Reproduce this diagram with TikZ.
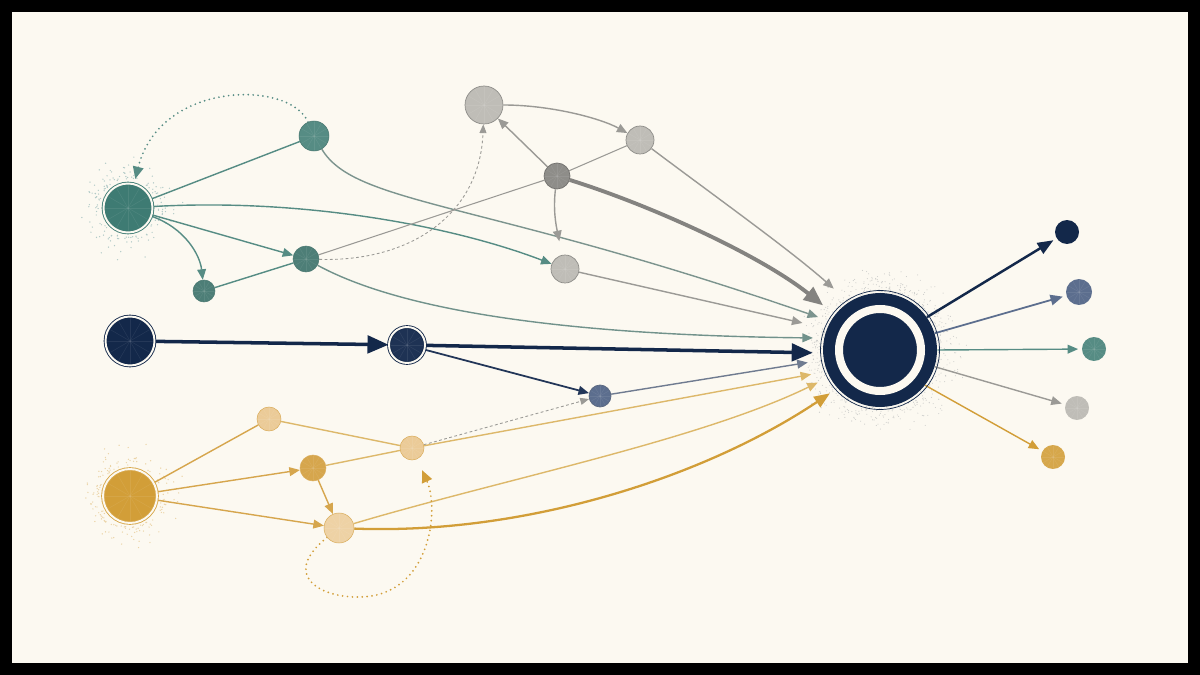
\documentclass[tikz,border=0pt]{standalone}
\usetikzlibrary{arrows.meta,calc,backgrounds}

\definecolor{paper}{HTML}{FCF9F1}
\definecolor{tealA}{HTML}{3E7B73}
\definecolor{tealB}{HTML}{568C84}
\definecolor{navy}{HTML}{13284A}
\definecolor{slate}{HTML}{5C6E8E}
\definecolor{stone}{HTML}{BFBDB7}
\definecolor{stoneD}{HTML}{8E8D89}
\definecolor{wire}{HTML}{9B9A96}
\definecolor{goldA}{HTML}{D29E38}
\definecolor{goldB}{HTML}{D6A64D}
\definecolor{goldC}{HTML}{EBCB98}
\definecolor{goldL}{HTML}{DDB86A}

\tikzset{
  bead/.style={circle, inner sep=0pt, minimum size={#1*0.04cm}},
  grain/.style={path picture={
      \foreach \a in {0,30,...,330}
        \draw[white, opacity=.08, line width=.3pt]
          (path picture bounding box.center) -- ++(\a:1.2cm);}},
  tealbead/.style={bead=#1, grain, fill=tealB, draw=tealB!85!black, line width=0.3pt},
  stonebead/.style={bead=#1, grain, fill=stone, draw=stoneD, line width=0.4pt},
  goldbead/.style={bead=#1, grain, fill=goldC, draw=goldB!80!goldC, line width=0.3pt},
  source/.style={draw=#1, double=paper, double distance=1.1pt, line width=0.5pt},
  link/.style={line width=0.8pt},
  flow/.style={link, -{Triangle[length=6pt,width=5pt]}},
  bigflow/.style={line width=2pt, -{Triangle[length=12pt,width=10pt]}},
  dotloop/.style={line width=1.1pt, line cap=round, dash pattern=on 0pt off 2.8pt,
                  -{Triangle[length=7pt,width=6pt]}},
  dashlink/.style={line width=0.5pt, dash pattern=on 1.6pt off 1.4pt,
                   -{Triangle[length=5pt,width=4pt]}},
}

\begin{document}
\begin{tikzpicture}[x=0.02cm, y=-0.02cm]
\useasboundingbox (0,0) rectangle (1200,675);
%
% teal branch
\node[bead=24.5, grain, fill=tealA, source=tealA] (T0) at (128,208) {};
\node[tealbead=15] (T1) at (314,136) {};
\node[tealbead=13, fill=tealB!90!black] (T2) at (306,259) {};
\node[tealbead=11, fill=tealB!90!black] (T3) at (204,291) {};
%
% grey branch
\node[stonebead=19] (G1) at (484,105) {};
\node[stonebead=14] (G2) at (640,140) {};
\node[stonebead=13, fill=stoneD, draw=stoneD!80!black] (G3) at (557,176) {};
\node[stonebead=14] (G4) at (565,269) {};
%
% navy branch
\node[bead=24.5, grain, fill=navy, source=navy] (N0) at (130,341) {};
\node[bead=18, grain, fill=navy!85!slate, source=navy] (N1) at (407,345) {};
\node[bead=11, grain, fill=slate, draw=navy!70] (N2) at (600,396) {};
%
% gold branch
\node[bead=27, grain, fill=goldA, source=goldA!80!goldC] (Y0) at (130,496) {};
\node[goldbead=12] (Y1) at (269,419) {};
\node[goldbead=13, fill=goldB] (Y2) at (313,468) {};
\node[goldbead=12] (Y3) at (412,448) {};
\node[goldbead=15, fill=goldC!85!paper] (Y4) at (339,528) {};
%
% hub
\node[bead=57, fill=navy] (Hub) at (880,350) {};
\draw[paper, line width=0.16cm] (Hub.center) circle[radius=41];
\draw[navy, line width=0.4pt] (Hub.center) circle[radius=59.5];
%
% outputs
\node[bead=12, fill=navy] (O1) at (1067,232) {};
\node[bead=13, grain, fill=slate] (O2) at (1079,292) {};
\node[bead=12, grain, fill=tealB] (O3) at (1094,349) {};
\node[bead=12, grain, fill=stone] (O4) at (1077,408) {};
\node[bead=12, grain, fill=goldA!90!paper] (O5) at (1053,457) {};
%
\begin{scope}[on background layer]
\fill[black] (0,0) rectangle (1200,675);
\fill[paper] (12,12) rectangle (1188,663);
%
% halos
\pgfmathsetseed{11}
\foreach \k in {1,...,150}{
  \pgfmathsetmacro\ang{rnd*360}
  \pgfmathsetmacro\dst{29+28*rnd*rnd}
  \fill[tealA!40] ($(T0)+(\ang:\dst)$) circle (0.7);
}
\foreach \k in {1,...,150}{
  \pgfmathsetmacro\ang{rnd*360}
  \pgfmathsetmacro\dst{31+28*rnd*rnd}
  \fill[goldA!45] ($(Y0)+(\ang:\dst)$) circle (0.7);
}
\foreach \k in {1,...,600}{
  \pgfmathsetmacro\ang{rnd*360}
  \pgfmathsetmacro\dst{58+32*rnd*rnd}
  \fill[stoneD!45] ($(Hub)+(\ang:\dst)$) circle (0.55);
}
%
% teal links
\draw[link, tealB] (T0) -- (T1);
\draw[flow, tealB] (T0) -- (T2);
\draw[flow, tealB] (T0) .. controls (185,228) and (200,255) .. (T3);
\draw[link, tealB] (T3) -- (T2);
\draw[flow, tealB] (T0) .. controls (300,198) and (450,225) .. (G4);
\draw[dotloop, tealB, shorten >=0.1cm] (T1) .. controls (290,80) and (160,80) .. (T0);
\draw[flow, tealB!45!wire, shorten >=0.26cm] (T1) .. controls (355,205) and (480,200) .. (Hub.150);
\draw[flow, tealB!60!wire, shorten >=0.22cm] (T2) .. controls (400,310) and (560,335) .. (Hub.168);
\draw[dashlink, wire] (T2) .. controls (410,262) and (480,215) .. (G1);
%
% grey links
\draw[flow, wire] (G1) .. controls (550,105) and (600,118) .. (G2);
\draw[flow, wire] (G3) -- (G1);
\draw[link, wire, line width=0.6pt] (G3) -- (G2);
\draw[link, wire, line width=0.6pt] (G3) -- (T2);
\draw[flow, wire, shorten >=0.28cm] (G3) .. controls (553,210) and (556,225) .. (G4);
\draw[flow, wire, shorten >=0.4cm] (G2) .. controls (720,200) and (790,250) .. (Hub.123);
\draw[wire!85!black, line width=2.2pt, -{Triangle[length=11pt,width=9pt]}, shorten >=0.3cm]
      (G3) .. controls (650,205) and (760,255) .. (Hub.142);
\draw[flow, wire, shorten >=0.5cm] (G4) -- (Hub.158);
%
% navy links
\draw[bigflow, navy] (N0) -- (N1);
\draw[bigflow, navy, shorten >=0.2cm] (N1) -- (Hub.183);
\draw[flow, navy!80!slate, line width=1pt] (N1) -- (N2);
\draw[flow, slate!70!wire, shorten >=0.32cm] (N2) -- (Hub.190);
\draw[dashlink, wire] (Y3) -- (N2);
%
% gold links
\draw[link, goldB] (Y0) -- (Y1);
\draw[flow, goldB] (Y0) -- (Y2);
\draw[flow, goldB] (Y0) -- (Y4);
\draw[link, goldL] (Y1) -- (Y3);
\draw[link, goldL] (Y2) -- (Y3);
\draw[flow, goldB] (Y2) -- (Y4);
\draw[flow, goldL, shorten >=0.32cm] (Y3) -- (Hub.202);
\draw[flow, goldL, shorten >=0.26cm] (Y4) .. controls (500,480) and (700,440) .. (Hub.208);
\draw[goldA, line width=1.3pt, -{Triangle[length=9pt,width=7pt]}, shorten >=0.18cm]
      (Y4) .. controls (520,535) and (700,480) .. (Hub.222);
\draw[dotloop, goldA, shorten >=0.24cm]
      (Y4) .. controls (280,575) and (320,598) .. (360,597)
           .. controls (430,596) and (440,510) .. (Y3);
%
% outputs
\draw[navy, line width=1.4pt, -{Triangle[length=9pt,width=7pt]}, shorten >=2pt] (Hub.35) -- (O1);
\draw[slate, line width=1pt, -{Triangle[length=7pt,width=6pt]}, shorten >=2pt] (Hub.17) -- (O2);
\draw[flow, tealB, shorten >=2pt] (Hub.0) -- (O3);
\draw[flow, wire, shorten >=2pt] (Hub.-17) -- (O4);
\draw[flow, goldA, shorten >=2pt] (Hub.-38) -- (O5);
\end{scope}
%
\end{tikzpicture}
\end{document}
